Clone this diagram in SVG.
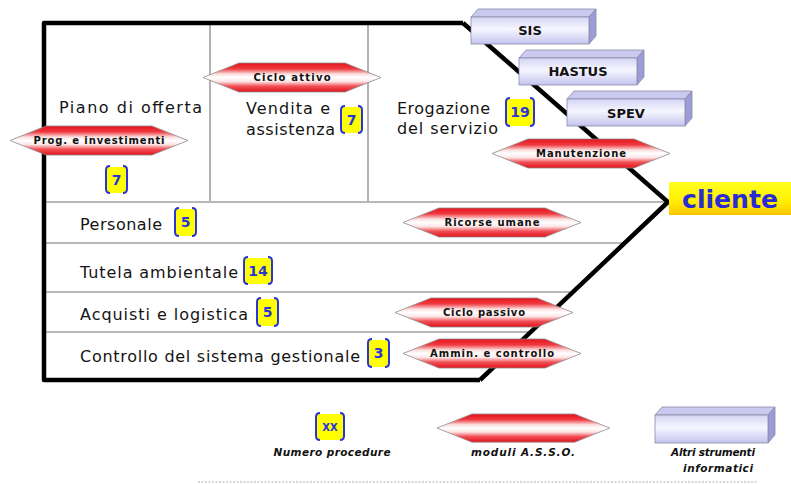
<svg xmlns="http://www.w3.org/2000/svg" xmlns:xlink="http://www.w3.org/1999/xlink" width="791" height="484" viewBox="0 0 791 484">
<defs>
<linearGradient id="hexGrad" x1="0" y1="0" x2="0" y2="1">
<stop offset="0" stop-color="#e6121c"/>
<stop offset="0.2" stop-color="#ee3a40"/>
<stop offset="0.38" stop-color="#fcdede"/>
<stop offset="0.5" stop-color="#ffffff"/>
<stop offset="0.64" stop-color="#fde4e4"/>
<stop offset="0.8" stop-color="#f05056"/>
<stop offset="1" stop-color="#e4121c"/>
</linearGradient>
<linearGradient id="boxFront" x1="0" y1="0" x2="0" y2="1">
<stop offset="0" stop-color="#d4d4f4"/>
<stop offset="0.45" stop-color="#f6f6ff"/>
<stop offset="1" stop-color="#c4c4ee"/>
</linearGradient>
<linearGradient id="yellowGrad" x1="0" y1="0" x2="0" y2="1">
<stop offset="0" stop-color="#ffff20"/>
<stop offset="0.6" stop-color="#ffee00"/>
<stop offset="1" stop-color="#ffc400"/>
</linearGradient>
<path id="hex" d="M0,14.5 L36,0 L142,0 L178,14.5 L142,29 L36,29 Z"/>
<g id="box">
<path d="M0,0 L7,-8 L125,-8 L118,0 Z" fill="#cacaf0" stroke="#8a8aa8" stroke-width="0.8"/>
<path d="M118,0 L125,-8 L125,19 L118,27 Z" fill="#9c9cd6" stroke="#8a8aa8" stroke-width="0.8"/>
<rect x="0" y="0" width="118" height="27" fill="url(#boxFront)" stroke="#8a8aa8" stroke-width="0.8"/>
</g>
</defs>
<style>
.lbl{font-family:"DejaVu Sans","Noto Sans",sans-serif;font-size:16px;fill:#141414}
.hx{fill:url(#hexGrad);stroke:#8c8c8c;stroke-width:0.8}
.hxt{font-family:"DejaVu Sans","Noto Sans",sans-serif;font-size:10px;font-weight:bold;fill:#111;text-anchor:middle}
.bt{font-family:"DejaVu Sans","Noto Sans",sans-serif;font-size:13px;font-weight:bold;fill:#111;text-anchor:middle}
.num{font-family:"DejaVu Sans","Noto Sans",sans-serif;font-size:14px;font-weight:bold;fill:#2a35d8;text-anchor:middle}
.ybg{fill:#ffff00}
.br{fill:none;stroke:#2a35d8;stroke-width:2}
.div{stroke:#a0a0a0;stroke-width:1.6;fill:none}
.leg{font-family:"DejaVu Sans","Noto Sans",sans-serif;font-size:10.5px;font-weight:bold;font-style:italic;fill:#111;text-anchor:middle}
</style>
<rect width="791" height="484" fill="#ffffff"/>

<g id="dividers">
<line class="div" x1="210" y1="25" x2="210" y2="201"/>
<line class="div" x1="368" y1="25" x2="368" y2="201"/>
<line class="div" x1="46" y1="202" x2="666" y2="202"/>
<line class="div" x1="46" y1="243" x2="625" y2="243"/>
<line class="div" x1="46" y1="292" x2="573" y2="292"/>
<line class="div" x1="46" y1="332" x2="531" y2="332"/>
</g>

<g id="connectors">
<path d="M463,23 L44,23 L44,380 L480,380" fill="none" stroke="#000" stroke-width="4.5" stroke-linejoin="round"/>
<path d="M463,23 L668,202 L480,380" fill="none" stroke="#000" stroke-width="4.5" stroke-linejoin="miter"/>
</g>

<g id="piano-offerta">
<text class="lbl" x="59" y="113" textLength="143" lengthAdjust="spacing">Piano di offerta</text>
<g transform="translate(105,166)">
<rect class="ybg" x="2" y="1" width="19" height="26"/>
<path class="br" d="M5,0 Q1,0 1,4 L1,23 Q1,27 5,27"/>
<path class="br" d="M18,0 Q22,0 22,4 L22,23 Q22,27 18,27"/>
<text class="num" x="11.5" y="19">7</text>
</g>
</g>

<g id="vendita-assistenza">
<text class="lbl" x="246" y="114" textLength="84" lengthAdjust="spacing">Vendita e</text>
<text class="lbl" x="246" y="135" textLength="89" lengthAdjust="spacing">assistenza</text>
<g transform="translate(340,106)">
<rect class="ybg" x="2" y="1" width="19" height="26"/>
<path class="br" d="M5,0 Q1,0 1,4 L1,23 Q1,27 5,27"/>
<path class="br" d="M18,0 Q22,0 22,4 L22,23 Q22,27 18,27"/>
<text class="num" x="11.5" y="19">7</text>
</g>
</g>

<g id="erogazione-servizio">
<text class="lbl" x="397" y="114" textLength="93" lengthAdjust="spacing">Erogazione</text>
<text class="lbl" x="397" y="134" textLength="101" lengthAdjust="spacing">del servizio</text>
<g transform="translate(505,98)">
<rect class="ybg" x="2" y="1" width="26" height="27"/>
<path class="br" d="M5,0 Q1,0 1,4 L1,24 Q1,28 5,28"/>
<path class="br" d="M25,0 Q29,0 29,4 L29,24 Q29,28 25,28"/>
<text class="num" x="15" y="19">19</text>
</g>
</g>

<g id="personale">
<text class="lbl" x="80" y="230" textLength="82" lengthAdjust="spacing">Personale</text>
<g transform="translate(174,208)">
<rect class="ybg" x="2" y="1" width="19" height="27"/>
<path class="br" d="M5,0 Q1,0 1,4 L1,24 Q1,28 5,28"/>
<path class="br" d="M18,0 Q22,0 22,4 L22,24 Q22,28 18,28"/>
<text class="num" x="11.5" y="19">5</text>
</g>
</g>

<g id="tutela-ambientale">
<text class="lbl" x="80" y="278" textLength="158" lengthAdjust="spacing">Tutela ambientale</text>
<g transform="translate(243,257)">
<rect class="ybg" x="2" y="1" width="26" height="26"/>
<path class="br" d="M5,0 Q1,0 1,4 L1,23 Q1,27 5,27"/>
<path class="br" d="M25,0 Q29,0 29,4 L29,23 Q29,27 25,27"/>
<text class="num" x="15" y="19">14</text>
</g>
</g>

<g id="acquisti-logistica">
<text class="lbl" x="80" y="320" textLength="168" lengthAdjust="spacing">Acquisti e logistica</text>
<g transform="translate(256,298)">
<rect class="ybg" x="2" y="1" width="19" height="27"/>
<path class="br" d="M5,0 Q1,0 1,4 L1,24 Q1,28 5,28"/>
<path class="br" d="M18,0 Q22,0 22,4 L22,24 Q22,28 18,28"/>
<text class="num" x="11.5" y="19">5</text>
</g>
</g>

<g id="controllo-sistema">
<text class="lbl" x="80" y="362" textLength="280" lengthAdjust="spacing">Controllo del sistema gestionale</text>
<g transform="translate(367,339)">
<rect class="ybg" x="2" y="1" width="19" height="27"/>
<path class="br" d="M5,0 Q1,0 1,4 L1,24 Q1,28 5,28"/>
<path class="br" d="M18,0 Q22,0 22,4 L22,24 Q22,28 18,28"/>
<text class="num" x="11.5" y="19">3</text>
</g>
</g>

<g id="hex-ciclo-attivo">
<use xlink:href="#hex" href="#hex" class="hx" x="203" y="63"/>
<text class="hxt" x="292" y="81" textLength="77" lengthAdjust="spacing">Ciclo attivo</text>
</g>
<g id="hex-prog-investimenti">
<use xlink:href="#hex" href="#hex" class="hx" x="10" y="126"/>
<text class="hxt" x="99" y="144" textLength="131" lengthAdjust="spacing">Prog. e investimenti</text>
</g>
<g id="hex-manutenzione">
<use xlink:href="#hex" href="#hex" class="hx" x="492" y="139"/>
<text class="hxt" x="581" y="157" textLength="90" lengthAdjust="spacing">Manutenzione</text>
</g>
<g id="hex-risorse-umane">
<use xlink:href="#hex" href="#hex" class="hx" x="403" y="208"/>
<text class="hxt" x="492" y="226" textLength="95" lengthAdjust="spacing">Ricorse umane</text>
</g>
<g id="hex-ciclo-passivo">
<use xlink:href="#hex" href="#hex" class="hx" x="395" y="298"/>
<text class="hxt" x="484" y="316" textLength="82" lengthAdjust="spacing">Ciclo passivo</text>
</g>
<g id="hex-ammin-controllo">
<use xlink:href="#hex" href="#hex" class="hx" x="403" y="339"/>
<text class="hxt" x="492" y="357" textLength="124" lengthAdjust="spacing">Ammin. e controllo</text>
</g>

<g id="box-sis">
<use xlink:href="#box" href="#box" x="471" y="17"/>
<text class="bt" x="530" y="35">SIS</text>
</g>
<g id="box-hastus">
<use xlink:href="#box" href="#box" x="519" y="58"/>
<text class="bt" x="578" y="76">HASTUS</text>
</g>
<g id="box-spev">
<use xlink:href="#box" href="#box" x="567" y="99"/>
<text class="bt" x="626" y="118">SPEV</text>
</g>

<g id="cliente">
<rect x="669" y="182" width="122" height="33" fill="url(#yellowGrad)"/>
<text x="682" y="208" font-family="DejaVu Sans, Noto Sans, sans-serif" font-size="25" font-weight="bold" fill="#2a2ad6" textLength="96" lengthAdjust="spacingAndGlyphs">cliente</text>
</g>

<g id="legend">
<g transform="translate(315,413)">
<rect class="ybg" x="2" y="1" width="26" height="26"/>
<path class="br" d="M5,0 Q1,0 1,4 L1,23 Q1,27 5,27"/>
<path class="br" d="M25,0 Q29,0 29,4 L29,23 Q29,27 25,27"/>
<text x="15" y="18" font-family="DejaVu Sans, sans-serif" font-size="10" font-weight="bold" fill="#2a35d8" text-anchor="middle">XX</text>
</g>
<text class="leg" x="332" y="456" textLength="117" lengthAdjust="spacing">Numero procedure</text>
<use xlink:href="#hex" href="#hex" class="hx" transform="translate(437,414) scale(0.97,0.97)"/>
<text class="leg" x="523" y="456" font-style="normal" textLength="104" lengthAdjust="spacing">moduli A.S.S.O.</text>
<g transform="translate(655,415)">
<path d="M0,0 L7,-8 L120,-8 L113,0 Z" fill="#cacaf0" stroke="#8a8aa8" stroke-width="0.8"/>
<path d="M113,0 L120,-8 L120,20 L113,28 Z" fill="#9c9cd6" stroke="#8a8aa8" stroke-width="0.8"/>
<rect x="0" y="0" width="113" height="28" fill="url(#boxFront)" stroke="#8a8aa8" stroke-width="0.8"/>
</g>
<text class="leg" x="713" y="456" textLength="84" lengthAdjust="spacing">Altri strumenti</text>
<text class="leg" x="718" y="472" textLength="70" lengthAdjust="spacing">informatici</text>
<line x1="198" y1="482" x2="757" y2="482" stroke="#b0b0b0" stroke-width="1.2" stroke-dasharray="2,1.5"/>
</g>
</svg>
